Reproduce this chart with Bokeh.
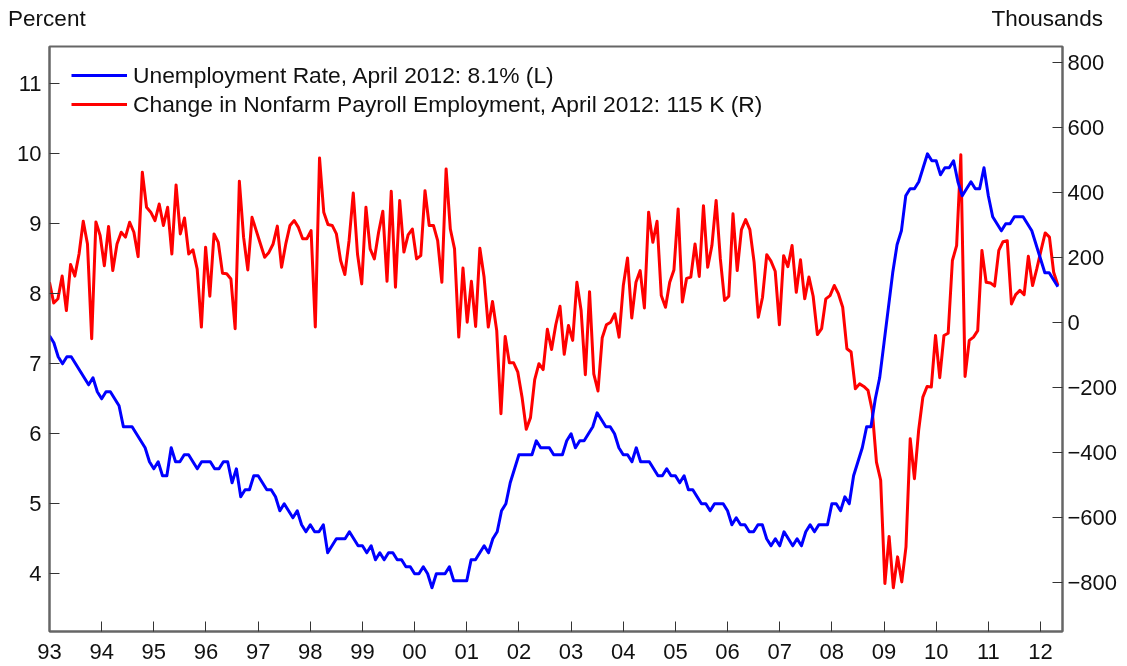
import numpy as np
from bokeh.plotting import figure
from bokeh.layouts import column
from bokeh.models import Range1d, LinearAxis, FixedTicker, Legend, LegendItem, Label
from bokeh.embed import file_html
from bokeh.resources import INLINE

FONT = "Liberation Sans"

# Unemployment rate, percent, monthly Dec 1992 .. Apr 2012 (left axis)
unemployment = [
    7.4,
    7.3, 7.1, 7.0, 7.1, 7.1, 7.0, 6.9, 6.8, 6.7, 6.8, 6.6, 6.5,
    6.6, 6.6, 6.5, 6.4, 6.1, 6.1, 6.1, 6.0, 5.9, 5.8, 5.6, 5.5,
    5.6, 5.4, 5.4, 5.8, 5.6, 5.6, 5.7, 5.7, 5.6, 5.5, 5.6, 5.6,
    5.6, 5.5, 5.5, 5.6, 5.6, 5.3, 5.5, 5.1, 5.2, 5.2, 5.4, 5.4,
    5.3, 5.2, 5.2, 5.1, 4.9, 5.0, 4.9, 4.8, 4.9, 4.7, 4.6, 4.7,
    4.6, 4.6, 4.7, 4.3, 4.4, 4.5, 4.5, 4.5, 4.6, 4.5, 4.4, 4.4,
    4.3, 4.4, 4.2, 4.3, 4.2, 4.3, 4.3, 4.2, 4.2, 4.1, 4.1, 4.0,
    4.0, 4.1, 4.0, 3.8, 4.0, 4.0, 4.0, 4.1, 3.9, 3.9, 3.9, 3.9,
    4.2, 4.2, 4.3, 4.4, 4.3, 4.5, 4.6, 4.9, 5.0, 5.3, 5.5, 5.7,
    5.7, 5.7, 5.7, 5.9, 5.8, 5.8, 5.8, 5.7, 5.7, 5.7, 5.9, 6.0,
    5.8, 5.9, 5.9, 6.0, 6.1, 6.3, 6.2, 6.1, 6.1, 6.0, 5.8, 5.7,
    5.7, 5.6, 5.8, 5.6, 5.6, 5.6, 5.5, 5.4, 5.4, 5.5, 5.4, 5.4,
    5.3, 5.4, 5.2, 5.2, 5.1, 5.0, 5.0, 4.9, 5.0, 5.0, 5.0, 4.9,
    4.7, 4.8, 4.7, 4.7, 4.6, 4.6, 4.7, 4.7, 4.5, 4.4, 4.5, 4.4,
    4.6, 4.5, 4.4, 4.5, 4.4, 4.6, 4.7, 4.6, 4.7, 4.7, 4.7, 5.0,
    5.0, 4.9, 5.1, 5.0, 5.4, 5.6, 5.8, 6.1, 6.1, 6.5, 6.8, 7.3,
    7.8, 8.3, 8.7, 8.9, 9.4, 9.5, 9.5, 9.6, 9.8, 10.0, 9.9, 9.9,
    9.7, 9.8, 9.8, 9.9, 9.6, 9.4, 9.5, 9.6, 9.5, 9.5, 9.8, 9.4,
    9.1, 9.0, 8.9, 9.0, 9.0, 9.1, 9.1, 9.1, 9.0, 8.9, 8.7, 8.5,
    8.3, 8.3, 8.2, 8.1,
]

# Change in nonfarm payroll employment, thousands (right axis), 240 monthly values
payrolls = [
    124, 60, 73, 143, 37, 179, 143, 211, 312, 242,
    -50, 310, 268, 175, 296, 160, 242, 278, 263, 309,
    278, 203, 463, 355, 340, 314, 365, 299, 355, 211,
    424, 273, 322, 211, 224, 165, -14, 232, 81, 273,
    247, 152, 150, 134, -19, 435, 263, 162, 324, 283,
    242, 201, 216, 242, 297, 170, 242, 299, 314, 293,
    258, 258, 283, -14, 507, 340, 302, 299, 273, 191,
    148, 252, 399, 211, 119, 355, 227, 196, 278, 343,
    127, 404, 109, 376, 217, 270, 288, 196, 206, 406,
    299,
    299, 252, 124, 473, 288, 227, -45, 168, 1, 127,
    -12, 229, 140, -14, 65, -25, -281, -43, -124, -124,
    -153, -230, -329, -293, -176, -127, -145, -21, -83, -7,
    50, -98, -9, -55, 124, 37, -161, 95, -158, -211,
    -47, -7, 1, 27, -45, 114, 199, 14, 124, 160,
    45, 340, 247, 312, 83, 47, 124, 162, 350, 63,
    136, 140, 242, 142, 360, 170, 237, 376, 196, 68,
    81, 335, 160, 286, 317, 286, 186, 16, 78, 209,
    189, 158, -7, 206, 172, 237, 93, 193, 73, 140,
    81, -37, -19, 73, 83, 114, 88,
    47, -81, -91, -204, -189, -197, -209, -271, -430, -486,
    -804, -659, -817, -722, -799, -691, -358, -481, -332, -230,
    -197, -199, -40, -170, -40, -33, 191, 237, 517, -166,
    -55, -45, -25, 222, 124, 122, 112, 222, 249, 252,
    57, 86, 99, 86, 204, 114, 165, 222, 276, 263,
    155, 115,
]

x_ticks = list(range(1993, 2013))
x_tick_labels = ["%02d" % (y % 100) for y in x_ticks]
left_ticks = [4, 5, 6, 7, 8, 9, 10, 11]
right_ticks = [-800, -600, -400, -200, 0, 200, 400, 600, 800]
right_tick_labels = ["\u2212800", "\u2212600", "\u2212400", "\u2212200", "0", "200", "400", "600", "800"]

legend_labels = [
    "Unemployment Rate, April 2012: 8.1% (L)",
    "Change in Nonfarm Payroll Employment, April 2012: 115 K (R)",
]
axis_titles = ["Percent", "Thousands"]

# x positions (decimal years)
ur_x = 1993.0 + np.arange(len(unemployment)) / 12.0
pay_x = np.linspace(1993.0, ur_x[-1], len(payrolls))

W = 1127
HEAD_H = 40
MAIN_H = 630

LBL_COL = "#111111"
AX_COL = "#666666"
TICK_COL = "#333333"

# ---- header strip holding the two axis unit titles
head = figure(
    width=W, height=HEAD_H,
    x_range=Range1d(0, W), y_range=Range1d(HEAD_H, 0),
    x_axis_type=None, y_axis_type=None,
    output_backend="svg", toolbar_location=None,
    min_border=0, min_border_left=0, min_border_right=0,
    min_border_top=0, min_border_bottom=0,
    background_fill_color="white", border_fill_color="white",
)
head.title.visible = False
head.outline_line_color = None
head.grid.visible = False
head.add_layout(Label(x=7.6, y=18, text=axis_titles[0], text_font=FONT,
                      text_font_size="22.5px", text_color=LBL_COL,
                      text_baseline="alphabetic", text_align="left"))
head.add_layout(Label(x=1102.4, y=18, text=axis_titles[1], text_font=FONT,
                      text_font_size="22.5px", text_color=LBL_COL,
                      text_baseline="alphabetic", text_align="right"))

# ---- main chart
p = figure(
    width=W, height=MAIN_H,
    x_range=Range1d(1993.0, 2012.422),
    y_range=Range1d(3.176, 11.533),
    output_backend="svg", toolbar_location=None,
    min_border_left=49, min_border_right=65, min_border_top=6, min_border_bottom=39,
    background_fill_color="white", border_fill_color="white",
)
p.title.visible = False
p.grid.visible = False
p.outline_line_color = AX_COL
p.outline_line_width = 2

p.extra_y_ranges = {"pay": Range1d(-951.9, 850.3)}

for fig in (head, p):
    if "frame_align" in fig.properties():
        fig.frame_align = False


def style_axis(ax, standoff):
    ax.axis_line_color = AX_COL
    ax.axis_line_width = 2
    ax.major_tick_in = 10
    ax.major_tick_out = 0
    ax.major_tick_line_color = TICK_COL
    ax.major_tick_line_width = 1
    ax.minor_tick_line_color = None
    ax.major_label_text_font = FONT
    ax.major_label_text_font_size = "22px"
    ax.major_label_text_color = LBL_COL
    ax.major_label_standoff = standoff


xa = p.xaxis[0]
xa.ticker = FixedTicker(ticks=x_ticks)
xa.major_label_overrides = {t: l for t, l in zip(x_ticks, x_tick_labels)}
style_axis(xa, 12)

ya = p.yaxis[0]
ya.ticker = FixedTicker(ticks=left_ticks)
style_axis(ya, 8)

ra = LinearAxis(y_range_name="pay", ticker=FixedTicker(ticks=right_ticks))
ra.major_label_overrides = {t: l for t, l in zip(right_ticks, right_tick_labels)}
style_axis(ra, 5)
p.add_layout(ra, "right")

red = p.line(pay_x, payrolls, y_range_name="pay", line_color="#FF0000",
             line_width=3, line_join="round")
blue = p.line(ur_x, unemployment, line_color="#0000FF", line_width=3,
              line_join="round")

legend = Legend(
    items=[LegendItem(label=legend_labels[0], renderers=[blue]),
           LegendItem(label=legend_labels[1], renderers=[red])],
    location=(22, 513.5),
    padding=10, margin=0, spacing=2,
    glyph_width=56, glyph_height=24, label_height=24, label_standoff=6,
    label_text_font=FONT, label_text_font_size="22.8px", label_text_color=LBL_COL,
    border_line_color=None, background_fill_alpha=0,
)
p.add_layout(legend)

page = column(head, p, spacing=0,
              styles={"position": "fixed", "top": "0px", "left": "0px"})

open("out.html", "w").write(file_html(page, INLINE))
